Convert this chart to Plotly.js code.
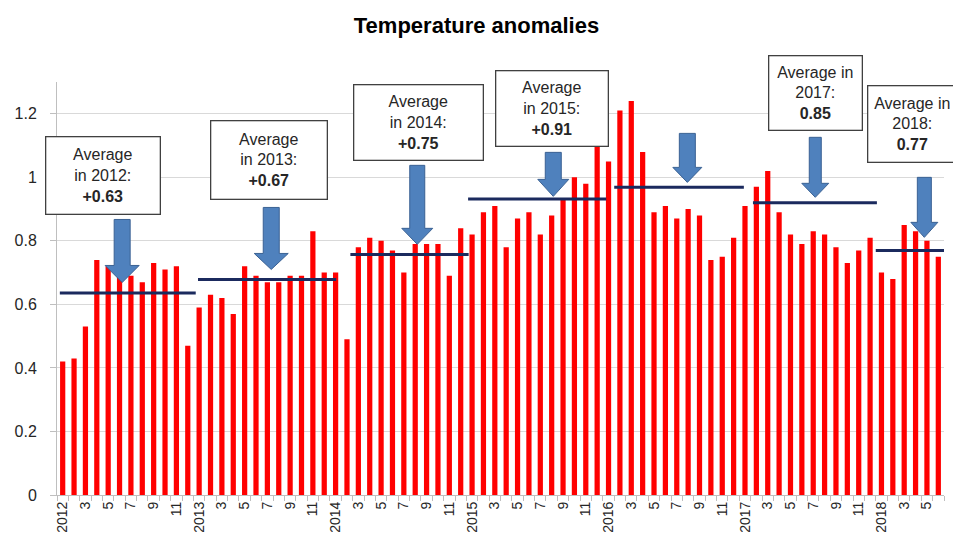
<!DOCTYPE html>
<html>
<head>
<meta charset="utf-8">
<script src="https://cdn.plot.ly/plotly-3.0.1.min.js"></script>
<style>html,body{margin:0;padding:0;background:#fff;}#chart{width:953px;height:542px;}</style>
</head>
<body>
<div id="chart"></div>
<script>
// Monthly temperature anomalies, Jan 2012 .. Jun 2018
const anomalies = [
  0.42, 0.43, 0.53, 0.74, 0.72, 0.70, 0.69, 0.67, 0.73, 0.71, 0.72, 0.47,  // 2012
  0.59, 0.63, 0.62, 0.57, 0.72, 0.69, 0.67, 0.67, 0.69, 0.69, 0.83, 0.70,  // 2013
  0.70, 0.49, 0.78, 0.81, 0.80, 0.77, 0.70, 0.79, 0.79, 0.79, 0.69, 0.84,  // 2014
  0.82, 0.89, 0.91, 0.78, 0.87, 0.89, 0.82, 0.88, 0.93, 1.00, 0.98, 1.13,  // 2015
  1.05, 1.21, 1.24, 1.08, 0.89, 0.91, 0.87, 0.90, 0.88, 0.74, 0.75, 0.81,  // 2016
  0.91, 0.97, 1.02, 0.89, 0.82, 0.79, 0.83, 0.82, 0.78, 0.73, 0.77, 0.81,  // 2017
  0.70, 0.68, 0.85, 0.83, 0.80, 0.75                                       // 2018
];
const tickLabels = [
  "2012","3","5","7","9","11",
  "2013","3","5","7","9","11",
  "2014","3","5","7","9","11",
  "2015","3","5","7","9","11",
  "2016","3","5","7","9","11",
  "2017","3","5","7","9","11",
  "2018","3","5"
];
// Yearly averages (as drawn by the author)
const avgYears  = ["2012","2013","2014","2015","2016","2017","2018"];
const avgLabels = ["+0.63","+0.67","+0.75","+0.91","+0.94","0.85","0.77"];
const avgLevels = [0.636, 0.678, 0.757, 0.932, 0.969, 0.920, 0.770];

// ---- layout helpers (positions / styles, not data) ----
const lineSpan = [[-0.25,11.7],[11.9,24.05],[25.3,35.7],[35.65,47.8],[48.5,59.9],[60.7,71.6],[71.5,77.7]];
// box: centre (x index, y value), width, height (px), valign
const boxPos = [
  {x:3.52,  y:1.006, w:115, h:78, v:'middle'},
  {x:18.12, y:1.054, w:117, h:79, v:'middle'},
  {x:31.27, y:1.172, w:130, h:76, v:'middle'},
  {x:43.0,  y:1.216, w:113, h:76, v:'middle'},
  {x:54.44, y:1.312, w:107, h:95, v:'top'},
  {x:66.18, y:1.265, w:94,  h:75, v:'middle'},
  {x:74.71, y:1.167, w:90,  h:77, v:'middle'}
];
const boxFirstLine = ["Average<br>in ","Average<br>in ","Average<br>in ","Average<br>in ","Average<br>in ","Average in<br>","Average in<br>"];
// arrows: tip (x index, y value), total length, head length, shaft half-width, head half-width (px)
const arrowPos = [
  {x:5.23,  y:0.669, L:63, hl:17, sh:8,   hh:17},
  {x:18.34, y:0.710, L:62, hl:16, sh:8,   hh:17},
  {x:31.18, y:0.789, L:79, hl:16, sh:7.5, hh:15.5},
  {x:43.14, y:0.940, L:44, hl:17, sh:8,   hh:15.5},
  {x:54.93, y:0.984, L:49, hl:15, sh:8,   hh:14.5},
  {x:66.18, y:0.937, L:60, hl:14, sh:6,   hh:13.5},
  {x:75.77, y:0.811, L:60, hl:15, sh:7,   hh:13.5}
];

const xIdx = anomalies.map((_, i) => i);
const tickVals = tickLabels.map((_, i) => i * 2);

const FONT = "Liberation Sans, Arial, sans-serif";

const shapes = [];
avgYears.forEach((yr, i) => {
  shapes.push({type:'line', xref:'x', yref:'y', x0:lineSpan[i][0], x1:lineSpan[i][1],
    y0:avgLevels[i], y1:avgLevels[i], line:{color:'#1B2A5E', width:3}, layer:'above'});
});
arrowPos.forEach(a => {
  const p = `M 0 0 L ${-a.hh} ${a.hl} L ${-a.sh} ${a.hl} L ${-a.sh} ${a.L} L ${a.sh} ${a.L} L ${a.sh} ${a.hl} L ${a.hh} ${a.hl} Z`;
  shapes.push({type:'path', xref:'x', yref:'y', xsizemode:'pixel', ysizemode:'pixel',
    xanchor:a.x, yanchor:a.y, path:p, fillcolor:'#4F81BD', line:{color:'#3A6193', width:1}, layer:'above'});
});

const annotations = avgYears.map((yr, i) => ({
  xref:'x', yref:'y', x:boxPos[i].x, y:boxPos[i].y, xanchor:'center', yanchor:'middle',
  text: boxFirstLine[i] + yr + ":<br><b>" + avgLabels[i] + "</b>",
  showarrow:false, width:boxPos[i].w - 4, height:boxPos[i].h - 4, valign:boxPos[i].v,
  align:'center', bgcolor:'#FFFFFF', bordercolor:'#404040', borderwidth:1.3, borderpad:1,
  font:{family:FONT, size:16, color:'#262626'}
}));

const trace = {
  type:'bar', x:xIdx, y:anomalies, marker:{color:'#FF0000', line:{width:0}},
  width:0.46, hoverinfo:'y', showlegend:false
};

const layout = {
  width:953, height:542,
  margin:{l:57, r:9, t:82, b:47, pad:0},
  paper_bgcolor:'#FFFFFF', plot_bgcolor:'#FFFFFF',
  title:{text:'<b>Temperature anomalies</b>', x:0.5, xanchor:'center', y:0.953, yanchor:'middle',
    font:{family:FONT, size:22, color:'#000000'}},
  xaxis:{
    range:[-0.5, 77.5], tickmode:'array', tickvals:tickVals, ticktext:tickLabels,
    tickangle:-90, ticks:'', showgrid:false, zeroline:false,
    showline:true, linecolor:'#BFBFBF', linewidth:1,
    tickfont:{family:FONT, size:14, color:'#262626'},
    minor:{tickmode:'linear', tick0:-0.5, dtick:1, ticks:'outside', ticklen:5, tickcolor:'#BFBFBF', showgrid:false},
    fixedrange:true
  },
  yaxis:{
    range:[0, 1.3], tickmode:'array', tickvals:[0,0.2,0.4,0.6,0.8,1,1.2], ticktext:['0','0.2','0.4','0.6','0.8','1','1.2'],
    ticks:'outside', ticklen:6, tickcolor:'#BFBFBF', ticklabelstandoff:10,
    showgrid:true, gridcolor:'#D9D9D9', gridwidth:1, zeroline:false,
    showline:true, linecolor:'#BFBFBF', linewidth:1,
    tickfont:{family:FONT, size:16, color:'#262626'},
    fixedrange:true
  },
  bargap:0.5,
  shapes:shapes,
  annotations:annotations
};

Plotly.newPlot('chart', [trace], layout, {displayModeBar:false, staticPlot:true});
</script>
</body>
</html>
